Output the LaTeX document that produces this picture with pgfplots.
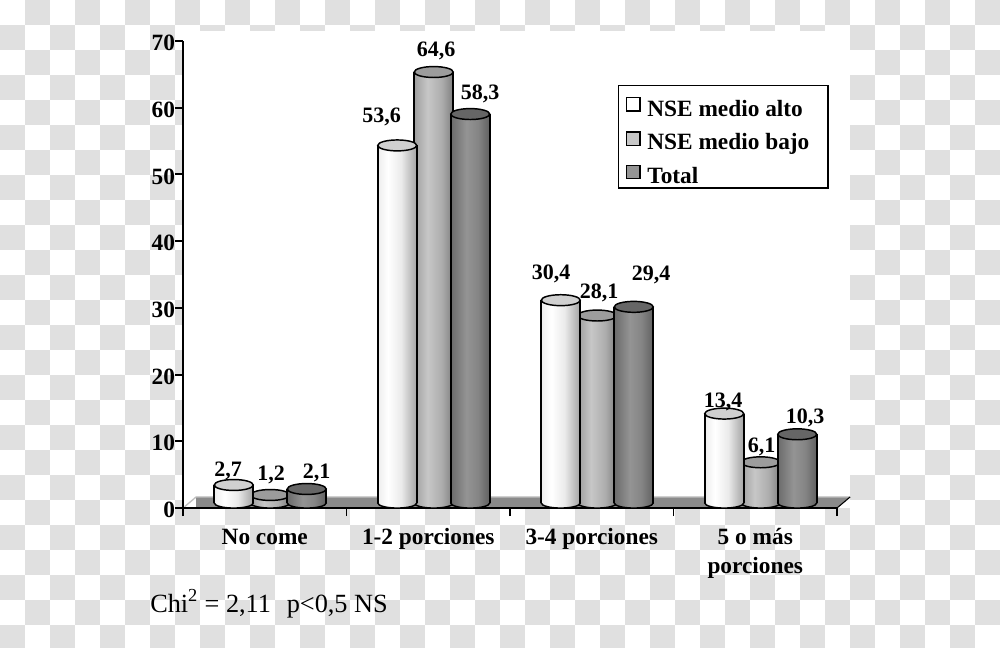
\documentclass[border=0pt]{standalone}
\usepackage{fontspec}
\setmainfont{Liberation Serif}
\usepackage{pgfplots}
\pgfplotsset{compat=1.18}

% 1 px of the reference = 0.75pt
\newcommand{\lab}[3]{\node[anchor=base,font=\fontsize{16.5}{18}\bfseries\selectfont] at (#1*0.75pt,-#2*0.75pt) {#3};}

\definecolor{chk}{HTML}{E0E0E0}
\definecolor{flr}{HTML}{8A8A8A}
\definecolor{topA}{HTML}{D0D0D0}
\definecolor{topB}{HTML}{9C9C9C}
\definecolor{topC}{HTML}{666666}

% shadings: the path box covers 25bp..75bp
\pgfdeclarehorizontalshading{cylA}{100bp}{rgb(0bp)=(.93,.93,.93); rgb(25bp)=(.93,.93,.93); rgb(38bp)=(1,1,1); rgb(55bp)=(.92,.92,.92); rgb(75bp)=(.64,.64,.64); rgb(100bp)=(.64,.64,.64)}
\pgfdeclarehorizontalshading{cylB}{100bp}{rgb(0bp)=(.62,.62,.62); rgb(25bp)=(.62,.62,.62); rgb(42bp)=(.78,.78,.78); rgb(60bp)=(.68,.68,.68); rgb(75bp)=(.5,.5,.5); rgb(100bp)=(.5,.5,.5)}
\pgfdeclarehorizontalshading{cylC}{100bp}{rgb(0bp)=(.42,.42,.42); rgb(25bp)=(.42,.42,.42); rgb(45bp)=(.58,.58,.58); rgb(60bp)=(.52,.52,.52); rgb(75bp)=(.38,.38,.38); rgb(100bp)=(.38,.38,.38)}

% ellipse marks for the ends of the cylinders
\newcommand{\cylend}{\pgfpathellipse{\pgfpointorigin}{\pgfqpoint{14.6pt}{0pt}}{\pgfqpoint{0pt}{3.8pt}}}
\pgfdeclareplotmark{capend}{\pgfpathellipse{\pgfpointorigin}{\pgfqpoint{14.6pt}{0pt}}{\pgfqpoint{0pt}{4.1pt}}\pgfusepathqfillstroke}
\pgfdeclareplotmark{baseA}{\pgfscope\cylend\pgfshadepath{cylA}{0}\endpgfscope\cylend\pgfusepathqstroke}
\pgfdeclareplotmark{baseB}{\pgfscope\cylend\pgfshadepath{cylB}{0}\endpgfscope\cylend\pgfusepathqstroke}
\pgfdeclareplotmark{baseC}{\pgfscope\cylend\pgfshadepath{cylC}{0}\endpgfscope\cylend\pgfusepathqstroke}

% one cylinder: #1 category, #2 value, #3 shift in pt, #4 left edge, #5 right edge, #6 letter, #7 top colour
\newcommand{\cyl}[7]{%
  \addplot[forget plot,only marks,mark=base#6,mark options={xshift=#3pt,line width=1.1pt,draw=black}] coordinates {(#1,0)};
  \addplot[forget plot,ybar,bar width=29.2pt,bar shift=#3pt,draw=none,shade,shading=cyl#6] coordinates {(#1,#2)};
  \addplot[forget plot,ybar,bar width=1.2pt,bar shift=#4pt,draw=none,fill=black] coordinates {(#1,#2)};
  \addplot[forget plot,ybar,bar width=1.2pt,bar shift=#5pt,draw=none,fill=black] coordinates {(#1,#2)};
  \addplot[forget plot,only marks,mark=capend,mark options={xshift=#3pt,line width=1.1pt,draw=black,fill=#7}] coordinates {(#1,#2)};
}
\newcommand{\cylA}[2]{\cyl{#1}{#2}{-23.25}{-37.85}{-8.65}{A}{topA}}
\newcommand{\cylB}[2]{\cyl{#1}{#2}{4.1}{-10.5}{18.7}{B}{topB}}
\newcommand{\cylC}[2]{\cyl{#1}{#2}{31.5}{16.9}{46.1}{C}{topC}}

\begin{document}
\begin{tikzpicture}
\useasboundingbox (0,0) rectangle (750pt,-486pt);
\fill[white] (0,0) rectangle (750pt,-486pt);
\begin{scope}
\clip (0,0) rectangle (750pt,-486pt);
\foreach \i in {0,...,39}{\foreach \j in {0,...,25}{
  \pgfmathparse{int(mod(\i+\j,2))}
  \ifnum\pgfmathresult=1
    \fill[chk] (\i*18.75pt,-\j*18.75pt) rectangle ++(18.75pt,-18.75pt);
  \fi
}}
\end{scope}
\fill[white] (183*0.75pt,-31*0.75pt) rectangle (850*0.75pt,-508*0.75pt);

% frame, ticks and floor
\begin{axis}[
    at={(183*0.75pt,-508*0.75pt)}, anchor=south west,
    scale only axis, width=490.5pt, height=350.25pt,
    xmin=-0.5, xmax=3.5, ymin=0, ymax=70,
    axis x line=bottom, axis y line=left,
    axis line style={-,line width=1.4pt},
    axis on top, clip=false,
    tick align=outside, major tick length=6pt,
    tick style={black,line width=1.4pt},
    xtick={-0.5,0.5,1.5,2.5,3.5}, xticklabels={},
    extra x ticks={0,1,2,3},
    extra x tick labels={No come,1-2 porciones,3-4 porciones,{\begin{tabular}[t]{@{}c@{}}5 o más\\porciones\end{tabular}}},
    extra x tick style={major tick length=0pt,tick label style={anchor=base,yshift=-27pt}},
    ytick={0,10,...,70},
    tick label style={font=\fontsize{17.5}{22}\bfseries\selectfont,/pgf/number format/assume math mode=true},
    yticklabel style={xshift=3.5pt,yshift=-1.5pt},
]
\addplot[fill=flr,draw=none] coordinates {(-0.5,0) (3.5,0) (3.58,1.65) (-0.42,1.65)} \closedcycle;
\addplot[draw=black!25,line width=1pt] coordinates {(-0.49,0.2) (-0.42,1.65) (3.58,1.65)};
\addplot[draw=black,line width=0.8pt] coordinates {(3.5,0) (3.58,1.65)};
\end{axis}

% cylinders; their bases stand 5 px above the axis line
\begin{axis}[
    at={(183*0.75pt,-508*0.75pt)}, anchor=south west,
    scale only axis, width=490.5pt, height=350.25pt,
    xmin=-0.5, xmax=3.5, ymin=-0.75, ymax=69.25,
    hide axis, clip=false, clip mode=individual,
    legend style={at={(0.6644,0.9058)},anchor=north west,draw=black,line width=0.9pt,fill=white,
      font=\fontsize{17.5}{22}\bfseries\selectfont,inner xsep=6pt,inner ysep=0pt,row sep=7.5pt,
      /tikz/every odd column/.append style={column sep=3pt}},
    legend cell align=left,
    legend image code/.code={\draw[line width=0.9pt,#1] (0pt,-2pt) rectangle (10pt,8pt);},
]
\cylB{0}{1.2}
\cylA{0}{2.7}
\cylC{0}{2.1}
\cylB{1}{64.6}
\cylA{1}{53.6}
\cylC{1}{58.3}
\cylB{2}{28.1}
\cylA{2}{30.4}
\cylC{2}{29.4}
\cylB{3}{6.1}
\cylA{3}{13.4}
\cylC{3}{10.3}
\addlegendimage{legend image code/.code={\draw[line width=0.9pt,fill=white] (0pt,-5.75pt) rectangle (10pt,4.25pt);}}
\addlegendimage{fill=black!22}
\addlegendimage{fill=black!42}
\addlegendentry{\rule{0pt}{21pt}NSE medio alto}
\addlegendentry{NSE medio bajo\rule{6pt}{0pt}}
\addlegendentry{Total}
\end{axis}

\lab{381.5}{123}{53,6}
\lab{436}{57}{64,6}
\lab{480}{100}{58,3}
\lab{228}{477}{2,7}
\lab{271}{481}{1,2}
\lab{316.5}{479}{2,1}
\lab{551}{280}{30,4}
\lab{599}{299}{28,1}
\lab{651}{281}{29,4}
\lab{723}{408}{13,4}
\lab{761.5}{453}{6,1}
\lab{805}{424}{10,3}

\node[anchor=base west,inner sep=0pt,font=\fontsize{19.7}{22}\selectfont] at (150*0.75pt,-612*0.75pt) {Chi\textsuperscript{2} = 2,11\ \ \hspace{2pt}p<0,5 NS};
\end{tikzpicture}
\end{document}
